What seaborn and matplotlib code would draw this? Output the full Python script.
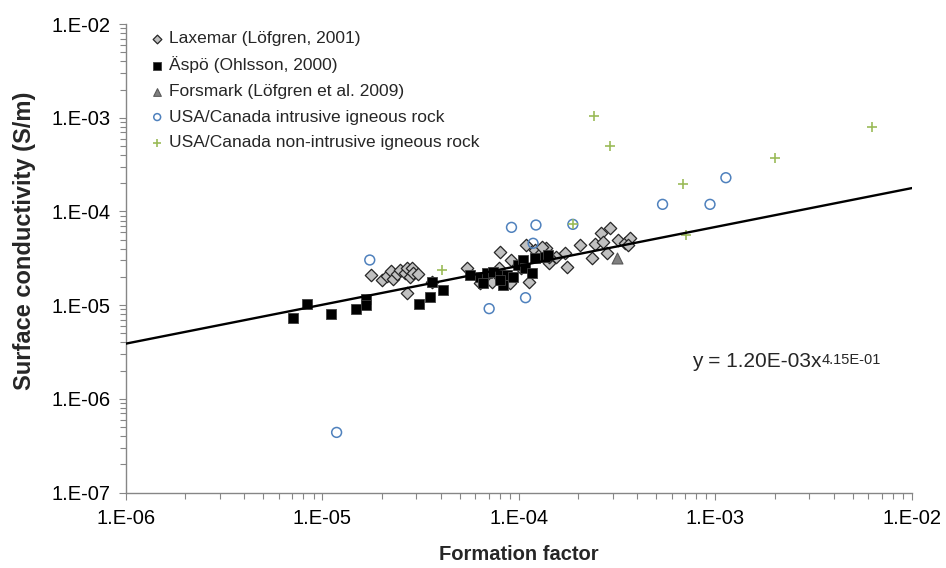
import numpy as np
import pandas as pd
import matplotlib
matplotlib.use("Agg")
import matplotlib.pyplot as plt
from matplotlib.ticker import LogLocator, FuncFormatter, NullFormatter
import seaborn as sns

# ---------------- data ----------------
laxemar_x = [1.76e-5, 2.00e-5, 2.12e-5, 2.24e-5, 2.29e-5, 2.40e-5, 2.48e-5, 2.62e-5,
             2.68e-5, 2.78e-5, 2.84e-5, 2.89e-5, 3.07e-5, 2.70e-5, 3.59e-5,
             5.45e-5, 6.37e-5, 7.25e-5, 7.99e-5, 7.90e-5, 9.16e-5, 1.03e-4, 1.09e-4,
             1.13e-4, 1.20e-4, 1.30e-4, 1.38e-4, 1.43e-4, 1.55e-4, 8.98e-5, 1.43e-4, 1.31e-4,
             1.71e-4, 1.75e-4, 2.04e-4, 2.34e-4, 2.43e-4, 2.63e-4, 2.68e-4, 2.79e-4,
             2.90e-4, 3.19e-4, 3.45e-4, 3.66e-4, 3.59e-4]
laxemar_y = [2.09e-5, 1.85e-5, 2.05e-5, 2.33e-5, 1.88e-5, 2.15e-5, 2.37e-5, 2.22e-5,
             2.47e-5, 2.01e-5, 2.47e-5, 2.22e-5, 2.15e-5, 1.34e-5, 1.77e-5,
             2.47e-5, 1.71e-5, 1.77e-5, 3.68e-5, 2.47e-5, 3.03e-5, 2.47e-5, 4.38e-5,
             1.77e-5, 3.87e-5, 3.60e-5, 4.04e-5, 2.79e-5, 3.29e-5, 1.71e-5, 3.29e-5, 4.20e-5,
             3.60e-5, 2.57e-5, 4.38e-5, 3.21e-5, 4.49e-5, 5.84e-5, 4.75e-5, 3.60e-5,
             6.60e-5, 4.99e-5, 4.63e-5, 5.22e-5, 4.38e-5]

aspo_x = [7.10e-6, 8.30e-6, 1.10e-5, 1.48e-5, 1.66e-5, 1.67e-5, 3.10e-5, 3.52e-5,
          3.59e-5, 4.11e-5, 5.62e-5, 6.32e-5, 6.84e-5, 7.38e-5, 7.99e-5, 8.30e-5,
          8.64e-5, 9.33e-5, 9.89e-5, 1.05e-4, 1.07e-4, 1.16e-4, 1.20e-4, 1.35e-4,
          1.41e-4, 6.57e-5, 7.99e-5]
aspo_y = [7.2e-6, 1.03e-5, 8.0e-6, 9.2e-6, 1.17e-5, 1.00e-5, 1.02e-5, 1.23e-5,
          1.77e-5, 1.45e-5, 2.09e-5, 2.01e-5, 2.18e-5, 2.27e-5, 2.09e-5, 1.64e-5,
          2.09e-5, 2.01e-5, 2.68e-5, 3.03e-5, 2.47e-5, 2.18e-5, 3.15e-5, 3.29e-5,
          3.43e-5, 1.71e-5, 1.85e-5]

forsmark_x = [3.15e-4]
forsmark_y = [3.15e-5]

intrusive_x = [1.18e-5, 1.74e-5, 9.16e-5, 1.22e-4, 1.18e-4, 1.88e-4, 1.08e-4, 7.05e-5,
               5.38e-4, 9.38e-4, 1.13e-3]
intrusive_y = [4.38e-7, 3.03e-5, 6.76e-5, 7.16e-5, 4.57e-5, 7.28e-5, 1.20e-5, 9.17e-6,
               1.19e-4, 1.19e-4, 2.29e-4]

nonintrusive_x = [4.08e-5, 1.88e-4, 2.41e-4, 2.90e-4, 6.87e-4, 7.11e-4, 2.02e-3, 6.24e-3]
nonintrusive_y = [2.37e-5, 7.28e-5, 1.05e-3, 5.02e-4, 1.95e-4, 5.60e-5, 3.69e-4, 7.91e-4]

fit_coef = 1.20e-3
fit_exp = 0.415

series_labels = ["Laxemar (Löfgren, 2001)", "Äspö (Ohlsson, 2000)",
                 "Forsmark (Löfgren et al. 2009)", "USA/Canada intrusive igneous rock",
                 "USA/Canada non-intrusive igneous rock"]

x_label = "Formation factor"
y_label = "Surface conductivity (S/m)"
eq_main = "y = 1.20E-03x"
eq_sup = "4.15E-01"

# ---------------- styling ----------------
sns.set_theme(style="white")
plt.rcParams["font.family"] = ["Liberation Sans", "DejaVu Sans"]

fig = plt.figure(figsize=(9.46, 5.68), dpi=100)
ax = fig.add_axes([0.1332, 0.1329, 0.964 - 0.1332, 0.9577 - 0.1329])

sns.scatterplot(x=laxemar_x, y=laxemar_y, ax=ax, marker="D", s=40,
                color="#C0C0C0", edgecolor="#262626", linewidth=0.9,
                label=series_labels[0], zorder=3)
sns.scatterplot(x=aspo_x, y=aspo_y, ax=ax, marker="s", s=56,
                color="black", edgecolor="#404040", linewidth=0.6,
                label=series_labels[1], zorder=4)
sns.scatterplot(x=forsmark_x, y=forsmark_y, ax=ax, marker="^", s=62,
                color="#808080", edgecolor="#595959", linewidth=0.8,
                label=series_labels[2], zorder=4)
sns.scatterplot(x=intrusive_x, y=intrusive_y, ax=ax, marker="o", s=50,
                facecolors="none", edgecolor="#4F81BD", linewidth=1.1,
                label=series_labels[3], zorder=5)
sns.scatterplot(x=nonintrusive_x, y=nonintrusive_y, ax=ax, marker="+", s=60,
                color="#9BBB59", linewidth=1.2,
                label=series_labels[4], zorder=6)

fx = np.logspace(-6, -2, 50)
sns.lineplot(x=fx, y=fit_coef * fx ** fit_exp, ax=ax, color="black",
             linewidth=1.7, zorder=7)

ax.set_xscale("log")
ax.set_yscale("log")
ax.set_xlim(1e-6, 1e-2)
ax.set_ylim(1e-7, 1e-2)

fmt = FuncFormatter(lambda v, p: "1.E-%02d" % round(-np.log10(v)))
ax.xaxis.set_major_locator(LogLocator(base=10, numticks=10))
ax.yaxis.set_major_locator(LogLocator(base=10, numticks=10))
ax.xaxis.set_minor_locator(LogLocator(base=10, subs=np.arange(2, 10), numticks=20))
ax.yaxis.set_minor_locator(LogLocator(base=10, subs=np.arange(2, 10), numticks=20))
ax.xaxis.set_major_formatter(fmt)
ax.yaxis.set_major_formatter(fmt)
ax.xaxis.set_minor_formatter(NullFormatter())
ax.yaxis.set_minor_formatter(NullFormatter())

spine_col = "#868686"
for side in ["top", "right"]:
    ax.spines[side].set_visible(False)
for side in ["left", "bottom"]:
    ax.spines[side].set_color(spine_col)
    ax.spines[side].set_linewidth(1.0)
ax.tick_params(which="both", direction="out", color=spine_col, width=0.8,
               labelsize=14.5, labelcolor="black")
ax.tick_params(which="major", length=5, pad=6)
ax.tick_params(which="minor", length=4)
ax.tick_params(axis="x", which="major", pad=7)
ax.tick_params(axis="y", which="both", left=True)
ax.tick_params(axis="x", which="both", bottom=True)

ax.set_xlabel(x_label, fontsize=14.5, fontweight="bold")
ax.set_ylabel(y_label, fontsize=17, fontweight="bold")
ax.xaxis.set_label_coords(0.5, -0.112)
ax.yaxis.set_label_coords(-0.114, 0.537)

t = ax.text(0.720, 0.2786, eq_main, transform=ax.transAxes, fontsize=15,
            ha="left", va="center")
ax.annotate(eq_sup, xy=(1.0, 0.98), xycoords=t, fontsize=10.5,
            ha="left", va="top")

ax.legend(loc="upper left", bbox_to_anchor=(0.022, 1.0), frameon=False,
          fontsize=12.5, handletextpad=0.3, handlelength=0.8, labelspacing=0.6,
          borderaxespad=0.0, markerscale=0.7)

fig.savefig("out.png", dpi=100)
